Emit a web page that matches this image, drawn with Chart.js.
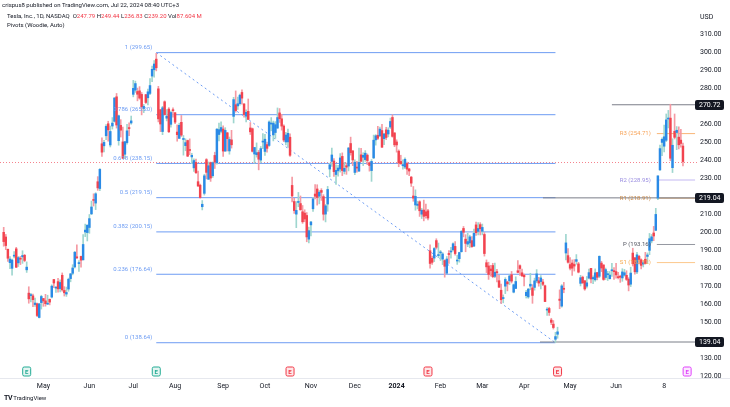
<!DOCTYPE html>
<html>
<head>
<meta charset="utf-8">
<title>Tesla 1D</title>
<script src="https://cdn.jsdelivr.net/npm/chart.js@4.4.1/dist/chart.umd.min.js"></script>
<style>
  html, body { margin: 0; padding: 0; background: #fff; }
  #wrap { position: relative; width: 730px; height: 407px; overflow: hidden; font-family: Roboto, "Liberation Sans", sans-serif; color: #131722; }
  canvas { position: absolute; left: 0; top: 0; }
  .t { position: absolute; white-space: nowrap; font-size: 6px; line-height: 8px; }
  .red { color: #f23645; }
</style>
</head>
<body>
<div id="wrap">
  <canvas id="chart" width="730" height="407"></canvas>
  <div class="t" style="left:2px;top:1px;">crispus8 published on TradingView.com, Jul 22, 2024 08:40 UTC+3</div>
  <div class="t" style="left:7px;top:12px;">Tesla, Inc., 1D, NASDAQ&nbsp; O<span class="red">247.79</span> H<span class="red">249.44</span> L<span class="red">236.83</span> C<span class="red">239.20</span> Vol<span class="red">87.604 M</span></div>
  <div class="t" style="left:7px;top:21px;">Pivots (Woodie, Auto)</div>
  <div class="t" style="left:700px;top:13px;font-size:7px;">USD</div>
  <div class="t" style="left:4px;top:394px;"><b style="font-size:7px;letter-spacing:-0.5px">TV</b> TradingView</div>
</div>
<script>
// daily candles, Apr 3 2023 .. Jul 19 2024 (index 0 = Apr 3 2023), one line per month
const opens = [
  199.91,197.32,190.52,183.08,179.94,186.69,190.74,182.96,185.36,186.32,187.15,179.10,166.17,164.80,164.65,159.82,160.29,152.64,160.90,
  163.17,161.88,160.01,162.71,163.97,173.72,168.95,172.55,168.70,176.07,167.66,165.65,168.41,174.22,177.17,180.70,186.20,182.56,186.54,184.62,200.10,199.78,
  202.59,210.15,217.80,216.14,228.00,224.22,249.07,247.94,253.51,260.17,248.40,258.92,261.50,275.13,250.77,259.29,250.07,243.24,249.70,258.03,260.60,
  276.49,278.82,278.09,278.43,276.47,268.65,276.33,274.59,277.01,286.63,290.15,296.04,279.56,268.00,255.85,272.38,263.25,268.31,259.86,267.48,
  266.26,255.57,252.04,260.97,251.45,248.02,250.87,245.40,241.77,235.70,238.73,228.02,226.06,214.12,221.55,240.25,229.34,238.66,231.31,242.58,238.58,254.20,255.98,
  257.26,245.00,255.14,245.07,251.22,264.27,270.76,270.07,271.32,277.55,271.16,264.35,267.04,257.85,257.40,243.38,242.98,244.26,240.02,250.00,
  244.81,248.61,248.14,260.00,253.98,255.31,257.75,266.20,262.92,258.90,250.05,250.10,252.70,225.95,217.01,210.00,216.50,215.88,211.32,210.60,209.28,196.12,
  204.04,212.97,221.15,223.98,219.98,223.15,219.75,210.03,215.60,235.03,239.29,239.49,232.00,234.04,235.04,242.04,233.75,236.89,236.68,249.21,245.14,
  233.14,235.75,233.87,242.92,241.55,240.27,242.74,238.55,234.19,241.22,251.21,253.78,253.48,256.41,251.90,256.76,254.49,258.35,263.66,255.10,
  250.08,244.98,239.25,236.86,236.14,238.11,235.10,230.57,220.08,215.10,214.86,216.88,209.99,212.26,211.30,211.88,189.70,185.50,185.63,195.33,187.00,
  188.50,185.04,184.26,177.21,188.18,189.00,190.18,192.11,183.99,185.30,189.16,202.06,196.13,193.36,194.00,195.31,192.29,204.04,200.42,204.18,
  200.52,198.73,183.05,181.27,179.55,181.50,175.45,177.77,173.05,167.77,163.16,170.02,172.36,173.00,176.39,166.69,168.76,178.58,181.41,177.45,
  176.17,164.75,164.02,170.07,169.08,169.34,172.91,173.04,172.55,172.34,170.24,156.74,157.64,151.25,148.97,140.56,143.33,162.84,158.96,168.85,188.42,186.98,
  182.00,182.86,182.10,183.80,182.40,171.59,175.01,173.05,170.00,174.50,179.90,174.10,173.55,177.56,175.51,182.85,181.80,174.84,176.40,174.19,178.58,178.50,
  178.13,174.78,175.35,174.60,176.13,176.06,173.92,171.12,188.39,185.80,177.92,186.56,184.68,182.30,184.97,186.54,189.92,195.17,199.55,
  201.02,218.89,234.56,249.81,247.71,251.00,262.80,263.30,235.80,255.97,255.31,252.73,251.09,247.79
];
const highs = [
  202.69,198.74,190.68,186.39,185.10,189.19,191.58,186.50,186.57,189.69,187.69,183.50,169.70,166.00,165.65,163.47,160.67,160.48,165.00,
  163.28,165.49,165.00,162.95,170.79,173.80,169.82,174.43,173.57,177.38,169.76,169.52,174.50,177.06,181.95,189.32,192.96,184.22,186.78,198.60,204.48,203.95,
  209.80,217.25,221.29,221.91,230.83,235.23,252.42,250.97,259.68,261.57,258.95,263.60,274.75,276.99,265.00,262.45,258.37,250.39,259.88,260.74,264.45,
  284.25,283.85,279.97,280.78,277.52,270.90,276.52,279.45,285.30,292.23,295.26,299.29,280.93,268.00,269.85,272.90,268.04,269.13,267.25,269.08,
  266.47,259.52,260.49,264.77,253.65,251.80,251.10,251.80,243.79,240.66,240.50,233.97,226.74,217.58,232.13,240.82,238.98,238.92,239.00,244.38,257.48,260.51,261.18,
  259.08,258.00,255.39,252.81,256.52,274.85,278.39,274.98,276.71,278.98,271.44,267.85,273.93,260.86,257.79,247.10,249.55,245.33,247.55,254.77,
  254.28,250.02,261.86,263.60,261.65,261.36,268.94,268.60,265.41,259.60,255.40,257.18,254.63,230.61,218.86,216.98,222.05,220.10,214.80,212.41,210.88,202.80,
  205.99,219.20,226.37,226.32,223.12,224.15,220.80,215.38,225.40,238.14,246.70,240.88,237.39,237.10,243.62,244.01,238.75,238.33,247.00,252.75,245.22,
  240.19,239.37,246.66,246.57,244.08,245.27,243.44,238.99,240.30,253.88,254.13,258.74,258.34,259.84,254.80,258.22,257.97,263.34,265.13,255.19,
  251.25,245.68,242.70,240.12,241.25,238.96,235.50,230.93,225.34,223.49,217.17,217.45,213.19,217.80,215.65,212.73,193.00,186.78,191.48,196.36,193.97,
  189.88,188.69,184.68,186.49,189.79,191.62,194.12,194.73,187.26,188.89,200.88,203.17,198.60,199.44,198.32,197.57,201.78,205.60,205.30,205.28,
  204.52,199.75,184.59,183.33,181.58,182.73,182.87,179.43,176.05,171.17,165.18,174.72,172.82,176.25,178.18,171.20,175.24,184.25,181.91,179.57,
  176.75,167.69,168.82,177.19,170.86,174.50,179.22,174.93,175.88,173.81,170.69,158.19,158.33,152.20,150.94,144.44,147.26,167.97,170.88,172.12,198.87,190.95,
  185.86,184.60,184.78,187.56,183.26,176.06,175.62,173.06,175.40,179.49,179.99,175.79,179.63,177.75,186.88,183.80,181.90,180.08,178.25,178.15,182.67,180.32,
  182.64,177.76,176.15,179.73,179.35,178.57,174.75,180.55,191.08,185.84,188.81,187.20,185.21,183.95,188.80,188.49,199.30,198.72,203.20,
  213.23,231.30,248.35,252.37,259.44,265.61,267.59,271.00,251.84,265.60,258.62,258.47,257.14,249.44
];
const lows = [
  192.20,190.32,183.76,179.74,176.11,185.65,180.31,180.94,182.01,182.69,183.58,177.65,160.56,161.32,158.61,158.75,153.14,152.37,157.32,
  158.83,158.93,159.91,159.65,163.51,169.19,166.56,166.68,166.79,167.23,164.55,164.35,167.19,172.45,176.31,180.11,185.26,178.22,180.58,184.53,197.53,195.12,
  199.37,209.75,214.52,212.53,223.20,223.01,242.02,244.59,251.34,250.50,247.29,257.21,261.07,257.78,248.25,252.80,240.70,240.85,248.89,253.61,259.89,
  275.11,277.60,272.88,273.77,265.10,266.37,271.46,270.60,276.31,283.57,286.01,289.52,261.20,255.80,254.12,265.00,261.75,255.30,258.23,263.78,
  260.25,250.49,252.00,253.11,242.76,245.19,241.90,243.00,238.02,233.75,232.61,225.38,218.83,212.36,220.58,229.55,229.29,228.18,230.35,235.35,237.77,250.59,255.05,
  242.01,244.86,245.06,243.27,246.67,260.61,266.60,268.10,270.42,271.00,263.76,261.20,262.46,254.21,244.48,238.31,241.66,234.58,238.65,246.35,
  242.62,244.45,247.60,256.25,250.65,252.05,257.65,260.90,256.63,250.22,248.48,247.08,242.08,216.78,210.42,202.51,214.11,212.20,204.88,205.77,194.67,194.07,
  197.85,211.45,218.40,215.00,215.72,217.64,206.68,205.69,211.61,230.72,236.45,230.96,226.54,231.02,233.34,231.40,232.33,232.10,234.01,242.76,236.91,
  231.90,233.29,233.70,239.17,236.98,239.27,237.45,233.87,228.20,240.79,248.30,251.36,253.01,247.00,248.55,251.37,252.91,257.52,252.71,247.43,
  244.41,236.32,237.73,234.90,235.30,232.04,231.29,225.37,217.15,212.18,212.91,208.74,207.56,206.27,207.75,206.77,180.06,182.10,183.67,190.61,185.85,
  184.28,182.00,175.01,177.11,182.68,185.58,189.48,187.28,182.11,183.35,188.86,197.40,189.13,191.95,191.36,191.50,192.00,198.26,198.44,198.45,
  198.50,186.72,177.57,173.79,175.60,174.70,174.80,172.41,169.15,160.51,160.76,165.90,167.42,170.82,171.80,166.30,168.73,177.38,176.00,175.30,
  170.21,163.43,163.28,168.01,160.51,167.79,171.92,170.01,168.51,170.36,161.38,153.75,153.78,148.70,146.22,138.80,141.11,157.51,158.36,166.37,184.54,182.84,
  179.01,176.02,178.42,182.20,177.40,170.15,171.37,167.75,169.00,174.07,171.87,171.43,172.75,173.52,174.71,178.12,173.26,173.73,173.16,173.93,175.38,173.82,
  174.49,174.00,172.13,172.73,175.58,173.17,167.41,169.80,181.23,176.66,177.00,182.37,179.66,180.69,182.26,182.63,187.51,194.05,195.26,
  200.85,218.06,234.25,242.46,244.57,250.30,257.86,239.65,233.09,251.73,245.80,246.18,247.20,236.83
];
const closes = [
  194.77,192.58,185.52,185.06,184.51,186.79,180.54,185.90,185.00,187.04,184.31,180.59,162.99,165.08,162.55,160.67,153.75,160.19,164.31,
  161.83,160.31,160.61,161.20,170.06,171.79,169.15,168.54,172.08,167.98,166.35,166.52,173.86,176.89,180.14,188.87,185.77,182.90,184.47,193.17,201.16,203.93,
  207.52,213.97,217.61,221.31,224.57,234.86,244.40,249.83,258.71,256.79,255.90,260.54,274.45,259.46,264.61,256.60,241.05,250.21,256.24,257.50,261.77,
  279.82,282.48,276.54,274.43,269.61,269.79,271.99,277.90,281.38,290.38,293.34,291.26,262.90,260.02,269.06,265.28,264.35,255.71,266.44,267.43,
  261.07,254.11,259.32,253.86,251.45,249.70,242.19,245.34,242.65,239.76,232.96,225.60,219.22,215.49,231.28,233.19,236.86,230.04,238.59,238.82,257.18,256.90,258.08,
  245.01,256.49,251.92,251.49,248.50,273.58,267.48,271.30,276.04,274.39,265.28,266.50,262.59,255.70,244.88,246.99,244.12,240.50,246.38,250.22,
  251.60,246.53,261.16,260.05,260.53,259.67,263.62,262.99,258.87,251.12,253.92,254.85,242.68,220.11,211.99,212.08,216.52,212.42,205.76,207.30,197.36,200.84,
  205.66,218.51,219.96,219.27,222.18,222.11,209.98,214.65,223.71,237.41,242.84,233.59,234.30,235.60,241.20,234.21,235.45,236.08,246.72,244.14,240.08,
  238.83,235.58,238.72,239.37,242.64,243.84,239.74,237.01,239.29,251.05,253.50,252.08,257.22,247.14,254.50,252.54,256.61,261.44,253.18,248.48,
  248.42,238.45,237.93,237.49,240.45,234.96,233.94,227.22,218.89,219.91,215.55,211.88,212.19,208.80,209.14,207.83,182.63,183.25,190.93,191.59,187.29,
  188.86,187.91,181.06,185.10,187.58,189.56,193.57,188.13,184.02,188.71,200.45,199.95,193.76,194.77,197.41,191.97,199.40,199.73,202.04,201.88,
  202.64,188.14,180.74,176.54,178.65,175.34,177.77,177.54,169.48,162.50,163.57,173.80,171.32,175.66,172.82,170.83,172.63,177.67,179.83,175.79,
  175.22,166.63,168.38,171.11,164.90,172.98,176.88,171.76,174.60,171.05,161.48,157.11,155.45,149.93,147.05,142.05,144.68,162.13,170.18,168.29,194.05,183.28,
  179.99,180.01,181.19,184.76,177.81,174.72,171.97,168.47,171.89,177.55,173.99,174.84,177.46,174.95,186.60,180.11,173.74,179.24,176.75,176.19,178.79,178.08,
  176.29,174.77,175.00,177.94,177.48,173.79,170.66,177.29,182.47,178.01,187.44,184.86,181.57,183.01,182.58,187.35,196.37,197.42,197.88,
  209.86,231.26,246.39,251.52,252.94,262.33,263.26,241.03,248.23,252.64,256.56,248.50,249.23,239.20
];

// x axis: day index of each labelled month start
const monthTicks = [19, 41, 62, 82, 105, 125, 147, 168, 188, 209, 229, 249, 271, 293, 316];
const monthLabels = ['May', 'Jun', 'Jul', 'Aug', 'Sep', 'Oct', 'Nov', 'Dec', '2024', 'Feb', 'Mar', 'Apr', 'May', 'Jun', '8'];
const yTicks = [120, 130, 140, 150, 160, 170, 180, 190, 200, 210, 220, 230, 240, 250, 260, 270, 280, 290, 300, 310];

// fibonacci retracement drawn from Jul 19 2023 high to Apr 22 2024 low
const fibFrom = 73, fibTo = 264;
const fibRatios = ['1', '0.786', '0.618', '0.5', '0.382', '0.236', '0'];
const fibPrices = [299.65, 265.20, 238.15, 219.15, 200.15, 176.64, 138.64];

// woodie pivots for July
const pivotFrom = 312.5;
const pivotNames = ['R3', 'R2', 'R1', 'P', 'S1'];
const pivotPrices = [254.71, 228.95, 218.91, 193.16, 183.12];
const pivotColors = ['#f7a45a', '#9a8ee0', '#c8894a', '#50535e', '#f5a94e'];
const pivotLineColors = ['#f9b577', '#c3b8f2', '#c8925a', '#9598a1', '#fcc88c'];

// horizontal price lines with axis tags
const priceLines = [270.72, 219.04, 139.04];
const priceLineFrom = [291, 258, 256.6];

// earnings events (day index) and flag colours
const earningsDays = [11, 73, 137, 203, 265, 327];
const earningsColors = ['#22ab94', '#22ab94', '#f23645', '#f23645', '#f23645', '#e040fb'];

const xMin = -1.77, xMax = 331.72;
const yMin = 119.06, yMax = 313.32;

const UP = '#2a8ae6', UP_WICK = '#9fd6cf', DOWN = '#f2434f', DOWN_WICK = '#f59aa3';
const FIB = '#6d9cf3';
const LAST = '#f5838d';

const isUp = i => closes[i] >= opens[i];
const bodies = closes.map((c, i) => ({ x: i, y: [opens[i], c] }));
const wicks = closes.map((c, i) => ({ x: i, y: [lows[i], highs[i]] }));

function hline(from, to, price, color, dash, order) {
  return {
    type: 'line', data: [{ x: from, y: price }, { x: to, y: price }],
    borderColor: color, borderWidth: 1, borderDash: dash || [], pointRadius: 0,
    fill: false, order: order || 5
  };
}

const lineSets = [];
fibPrices.forEach(p => lineSets.push(hline(fibFrom, fibTo, p, FIB)));
lineSets.push({
  type: 'line', data: [{ x: fibFrom, y: fibPrices[0] }, { x: fibTo, y: fibPrices[6] }],
  borderColor: FIB, borderWidth: 1, borderDash: [2, 3], pointRadius: 0, fill: false, order: 5
});
pivotPrices.forEach((p, i) => lineSets.push(hline(pivotFrom, 330.8, p, pivotLineColors[i])));
priceLines.forEach((p, i) => lineSets.push(hline(priceLineFrom[i], xMax, p, '#7b7e88', [], 4)));

const overlay = {
  id: 'overlay',
  beforeDatasetsDraw(chart) {
    // dotted last-price line, snapped to a pixel row
    const { ctx, chartArea: a } = chart;
    const py = Math.round(chart.scales.y.getPixelForValue(closes[closes.length - 1])) + 0.5;
    ctx.save();
    ctx.strokeStyle = LAST;
    ctx.lineWidth = 1;
    ctx.setLineDash([1, 2]);
    ctx.beginPath();
    ctx.moveTo(a.left, py);
    ctx.lineTo(a.right, py);
    ctx.stroke();
    ctx.restore();
  },
  afterDraw(chart) {
    const { ctx, chartArea: a } = chart;
    const x = chart.scales.x, y = chart.scales.y;
    ctx.save();

    // bottom border of the pane
    ctx.strokeStyle = '#e6e8ee';
    ctx.lineWidth = 1;
    ctx.beginPath();
    ctx.moveTo(0, a.bottom + 0.5);
    ctx.lineTo(730, a.bottom + 0.5);
    ctx.stroke();

    // fib labels
    ctx.font = '6px Roboto';
    ctx.textAlign = 'right';
    ctx.textBaseline = 'middle';
    ctx.fillStyle = FIB;
    fibPrices.forEach((p, i) => {
      ctx.fillText(fibRatios[i] + ' (' + p.toFixed(2) + ')', x.getPixelForValue(fibFrom) - 4, y.getPixelForValue(p) - 5);
    });

    // pivot labels
    pivotPrices.forEach((p, i) => {
      ctx.fillStyle = pivotColors[i];
      ctx.fillText(pivotNames[i] + ' (' + p.toFixed(2) + ')', x.getPixelForValue(pivotFrom) - 6, y.getPixelForValue(p));
    });

    // earnings flags
    earningsDays.forEach((d, i) => {
      const cx = x.getPixelForValue(d), cy = 372;
      const col = earningsColors[i];
      ctx.beginPath();
      ctx.roundRect(cx - 4, cy - 5, 8, 9, 1.5);
      ctx.fillStyle = col + '1f';
      ctx.fill();
      ctx.strokeStyle = col;
      ctx.lineWidth = 1;
      ctx.stroke();
      ctx.fillStyle = col;
      ctx.font = 'bold 6px Roboto';
      ctx.textAlign = 'center';
      ctx.fillText('E', cx, cy);
    });

    // price tags on the axis
    priceLines.forEach(p => {
      const py = Math.round(y.getPixelForValue(p));
      ctx.fillStyle = '#131722';
      ctx.beginPath();
      ctx.roundRect(a.right - 2, py - 5, 29, 10, 2);
      ctx.fill();
      ctx.fillStyle = '#fff';
      ctx.font = '7px Roboto';
      ctx.textAlign = 'left';
      ctx.fillText(p.toFixed(2), a.right + 2, py + 0.5);
    });
    ctx.restore();
  }
};

new Chart(document.getElementById('chart').getContext('2d'), {
  type: 'bar',
  data: {
    datasets: [
      {
        label: 'body', data: bodies, order: 0, grouped: false, barThickness: 1.8, minBarLength: 1,
        backgroundColor: c => isUp(c.dataIndex) ? UP : DOWN
      },
      {
        label: 'wick', data: wicks, order: 1, grouped: false, barThickness: 1,
        backgroundColor: c => isUp(c.dataIndex) ? UP_WICK : DOWN_WICK
      },
      ...lineSets
    ]
  },
  options: {
    responsive: false,
    animation: false,
    layout: { padding: { top: 28, bottom: 14, left: 0, right: 0 } },
    plugins: { legend: { display: false }, tooltip: { enabled: false } },
    scales: {
      x: {
        type: 'linear', min: xMin, max: xMax, offset: false,
        grid: { display: false, drawTicks: false }, border: { display: false },
        afterBuildTicks: s => { s.ticks = monthTicks.map(v => ({ value: v })); },
        afterFit: s => { s.height = 15; },
        ticks: {
          autoSkip: false, maxRotation: 0, padding: 4, color: '#131722',
          font: c => ({ family: 'Roboto', size: 7, weight: (c.tick && c.tick.value === 188) ? 'bold' : 'normal' }),
          callback: (v, i) => monthLabels[i]
        }
      },
      y: {
        position: 'right', min: yMin, max: yMax,
        grid: { display: false, drawTicks: false }, border: { display: false },
        afterBuildTicks: s => { s.ticks = yTicks.map(v => ({ value: v })); },
        afterFit: s => { s.width = 33; },
        ticks: { padding: 3, color: '#131722', font: { family: 'Roboto', size: 7 }, callback: v => v.toFixed(2) }
      }
    }
  },
  plugins: [overlay]
});
</script>
</body>
</html>
